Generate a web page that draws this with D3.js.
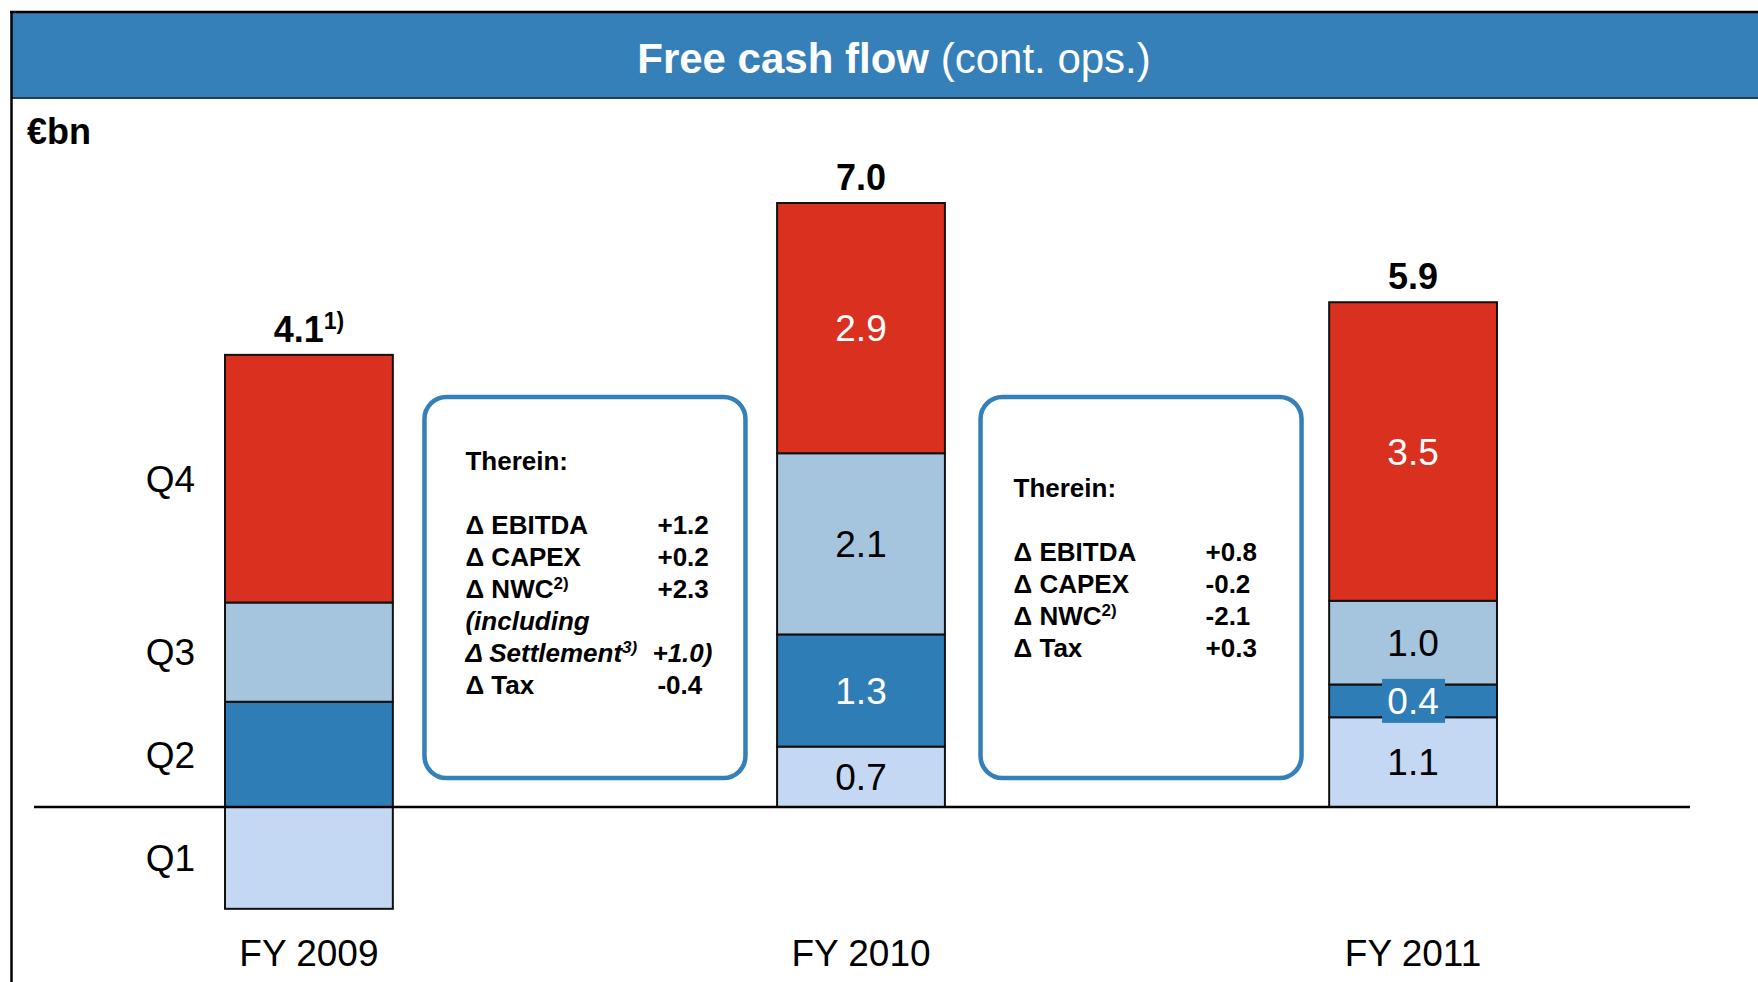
<!DOCTYPE html>
<html>
<head>
<meta charset="utf-8">
<script src="https://cdn.jsdelivr.net/npm/d3@7"></script>
<style>
  body { margin: 0; background: #fff; }
  text { font-family: "Liberation Sans", Arial, Helvetica, sans-serif; }
</style>
</head>
<body>
<script>
// data (EUR bn)
var categories = ["FY 2009", "FY 2010", "FY 2011"];
var quarters = ["Q1", "Q2", "Q3", "Q4"];
var q1 = [-1.18, 0.7, 1.04];
var q2 = [1.22, 1.3, 0.38];
var q3 = [1.15, 2.1, 0.97];
var q4 = [2.87, 2.9, 3.46];
// printed labels (rounded as in the source)
var q1Labels = ["", "0.7", "1.1"];
var q2Labels = ["", "1.3", "0.4"];
var q3Labels = ["", "2.1", "1.0"];
var q4Labels = ["", "2.9", "3.5"];
var totalLabels = ["4.1", "7.0", "5.9"];
var totalNotes = ["1)", "", ""];

var box1Lines = [
  ["Δ EBITDA", "", "+1.2"],
  ["Δ CAPEX", "", "+0.2"],
  ["Δ NWC", "2)", "+2.3"],
  ["(including", "", ""],
  ["Δ Settlement", "3)", "+1.0)"],
  ["Δ Tax", "", "-0.4"]
];
var box1Italic = [false, false, false, true, true, false];
var box2Lines = [
  ["Δ EBITDA", "", "+0.8"],
  ["Δ CAPEX", "", "-0.2"],
  ["Δ NWC", "2)", "-2.1"],
  ["Δ Tax", "", "+0.3"]
];

var width = 1758,
    height = 982;

var colors = {Q1: "#c5d8f3", Q2: "#2f7db6", Q3: "#a5c4de", Q4: "#d9301f"};
var labelColors = {Q1: "#000", Q2: "#fff", Q3: "#000", Q4: "#fff"};
var segLabels = {Q1: q1Labels, Q2: q2Labels, Q3: q3Labels, Q4: q4Labels};
var blue = "#3580b9";

var svg = d3.select("body").append("svg")
    .attr("width", width)
    .attr("height", height);

// frame + title bar
svg.append("rect")
    .attr("x", 11).attr("y", 12)
    .attr("width", width).attr("height", 86)
    .attr("fill", blue);
svg.append("line")
    .attr("x1", 10).attr("x2", width).attr("y1", 12).attr("y2", 12)
    .attr("stroke", "#000").attr("stroke-width", 2.5);
svg.append("line")
    .attr("x1", 11).attr("x2", width).attr("y1", 98).attr("y2", 98)
    .attr("stroke", "#1e3f5a").attr("stroke-width", 2);
svg.append("line")
    .attr("x1", 11.5).attr("x2", 11.5).attr("y1", 11).attr("y2", height)
    .attr("stroke", "#000").attr("stroke-width", 2.5);

var title = svg.append("text")
    .attr("x", 894).attr("y", 73)
    .attr("text-anchor", "middle")
    .attr("fill", "#fff")
    .style("font-size", "42px");
title.append("tspan").attr("font-weight", "bold").text("Free cash flow ");
title.append("tspan").text("(cont. ops.)");

svg.append("text")
    .attr("x", 27).attr("y", 144)
    .attr("font-weight", "bold")
    .style("font-size", "36px")
    .text("€bn");

// scales
var x = d3.scaleBand()
    .domain(categories)
    .range([114.6, 1607.4])
    .paddingInner(0.696)
    .paddingOuter(0.2);

var y = d3.scaleLinear()
    .domain([0, 7])
    .range([807, 203]);

var rows = categories.map(function(c, i){
  return {cat: c, i: i, Q1: q1[i], Q2: q2[i], Q3: q3[i], Q4: q4[i]};
});

var series = d3.stack()
    .keys(quarters)
    .offset(d3.stackOffsetDiverging)(rows);

var layer = svg.selectAll(".layer")
    .data(series)
  .enter().append("g")
    .attr("class", "layer")
    .attr("fill", function(d){ return colors[d.key]; });

layer.selectAll("rect")
    .data(function(d){ return d; })
  .enter().append("rect")
    .attr("x", function(d){ return x(d.data.cat); })
    .attr("y", function(d){ return y(d[1]); })
    .attr("width", x.bandwidth())
    .attr("height", function(d){ return y(d[0]) - y(d[1]); })
    .attr("stroke", "#111")
    .attr("stroke-width", 2);

// zero line
svg.append("line")
    .attr("x1", 34).attr("x2", 1690)
    .attr("y1", y(0)).attr("y2", y(0))
    .attr("stroke", "#000").attr("stroke-width", 2.5);

// segment labels
series.forEach(function(s){
  s.forEach(function(d){
    var lbl = segLabels[s.key][d.data.i];
    if (!lbl) return;
    var cx = x(d.data.cat) + x.bandwidth() / 2,
        cy = (y(d[0]) + y(d[1])) / 2,
        h = y(d[0]) - y(d[1]);
    if (h < 40) {
      svg.append("rect")
          .attr("x", cx - 31).attr("y", cy - 22)
          .attr("width", 63).attr("height", 44)
          .attr("fill", colors[s.key]);
    }
    svg.append("text")
        .attr("x", cx).attr("y", cy)
        .attr("dy", "0.36em")
        .attr("text-anchor", "middle")
        .attr("fill", labelColors[s.key])
        .style("font-size", "37px")
        .text(lbl);
  });
});

// quarter labels next to first bar
series.forEach(function(s){
  var d = s[0];
  svg.append("text")
      .attr("x", 195)
      .attr("y", (y(d[0]) + y(d[1])) / 2)
      .attr("dy", "0.36em")
      .attr("text-anchor", "end")
      .style("font-size", "37px")
      .text(s.key);
});

// totals
var topSeries = series[series.length - 1];
topSeries.forEach(function(d, i){
  var t = svg.append("text")
      .attr("x", x(d.data.cat) + x.bandwidth() / 2)
      .attr("y", y(d[1]) - 13)
      .attr("text-anchor", "middle")
      .attr("font-weight", "bold")
      .style("font-size", "36px")
      .text(totalLabels[i]);
  if (totalNotes[i]) {
    t.append("tspan")
        .attr("dy", -13)
        .style("font-size", "23px")
        .text(totalNotes[i]);
  }
});

// category labels
svg.selectAll(".cat")
    .data(categories)
  .enter().append("text")
    .attr("class", "cat")
    .attr("x", function(d){ return x(d) + x.bandwidth() / 2; })
    .attr("y", 966)
    .attr("text-anchor", "middle")
    .style("font-size", "37px")
    .text(function(d){ return d; });

// annotation boxes
function drawBox(cx, lines, italic, textDx, valDx, shiftY){
  var bw = 321, bh = 381, bx = cx - bw / 2, by = 397, lh = 32;
  svg.append("rect")
      .attr("x", bx).attr("y", by)
      .attr("width", bw).attr("height", bh)
      .attr("rx", 22)
      .attr("fill", "#fff")
      .attr("stroke", blue)
      .attr("stroke-width", 4.5);

  var n = lines.length + 2;
  var y0 = by + (bh - n * lh) / 2 + 10 + shiftY;
  svg.append("text")
      .attr("x", bx + textDx).attr("y", y0)
      .attr("font-weight", "bold")
      .style("font-size", "26px")
      .text("Therein:");

  lines.forEach(function(l, i){
    var ly = y0 + (i + 2) * lh;
    var t = svg.append("text")
        .attr("x", bx + textDx).attr("y", ly)
        .attr("font-weight", "bold")
        .attr("font-style", italic[i] ? "italic" : "normal")
        .style("font-size", "26px")
        .text(l[0]);
    if (l[1]) {
      t.append("tspan")
          .attr("dy", -9)
          .style("font-size", "17px")
          .text(l[1]);
    }
    if (l[2]) {
      svg.append("text")
          .attr("x", bx + valDx - (italic[i] ? 5 : 0)).attr("y", ly)
          .attr("font-weight", "bold")
          .attr("font-style", italic[i] ? "italic" : "normal")
          .style("font-size", "26px")
          .text(l[2]);
    }
  });
}

var gap1 = (x(categories[0]) + x.bandwidth() + x(categories[1])) / 2,
    gap2 = (x(categories[1]) + x.bandwidth() + x(categories[2])) / 2;

drawBox(gap1, box1Lines, box1Italic, 41, 233, 0);
drawBox(gap2 + 4, box2Lines, [false, false, false, false], 33, 225, -5);
</script>
</body>
</html>
